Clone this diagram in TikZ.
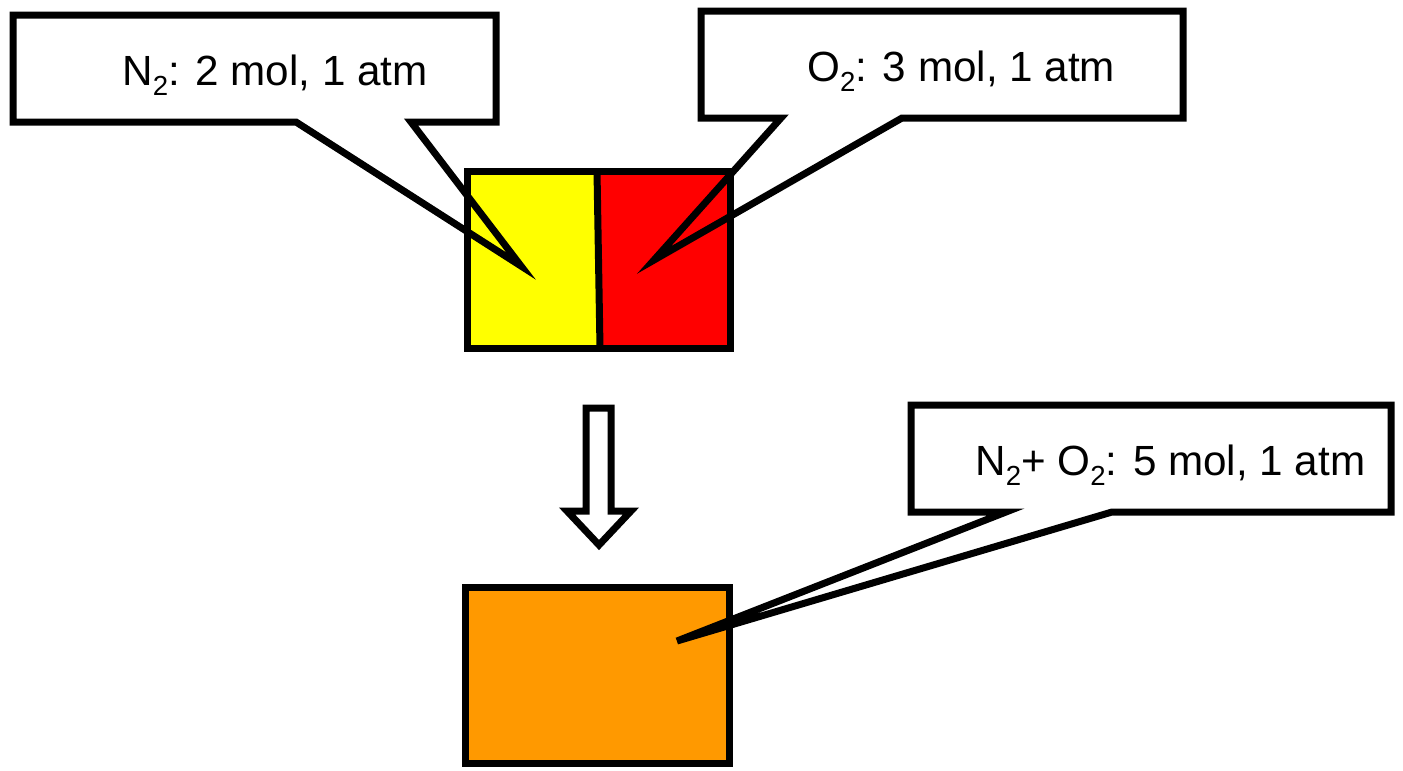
\documentclass[tikz,border=0pt]{standalone}
\usepackage{fontspec}
\setmainfont{Liberation Sans}
\definecolor{cyel}{RGB}{255,255,0}
\definecolor{cred}{RGB}{255,0,0}
\definecolor{corg}{RGB}{255,153,0}
\newcommand{\chemsub}[1]{\raisebox{-0.25em}{\fontsize{13.8pt}{16pt}\selectfont #1}}
\begin{document}
\begin{tikzpicture}[x=0.5pt,y=-0.5pt,
  outl/.style={draw=black, line width=3.5pt, line join=miter},
  lbl/.style={anchor=base west, inner sep=0pt, font=\fontsize{21.1pt}{25pt}\selectfont}]
\useasboundingbox (0,0) rectangle (1403,771);
% top container
\coordinate (ytl) at (467,171);
\coordinate (ydt) at (597,171);
\coordinate (ydb) at (600,348);
\coordinate (ybl) at (467,348);
\coordinate (rtr) at (730,171);
\coordinate (rbr) at (730,348);
\fill[cyel] (ytl) -- (ydt) -- (ydb) -- (ybl) -- cycle;
\fill[cred] (ydt) -- (rtr) -- (rbr) -- (ydb) -- cycle;
\draw[outl] (ytl) -- (rtr) -- (rbr) -- (ybl) -- cycle;
\draw[outl] (ydt) -- (ydb);
% arrow
\coordinate (a1) at (586,408);
\coordinate (a2) at (611,408);
\coordinate (a3) at (611,511);
\coordinate (a4) at (631,511);
\coordinate (a5) at (599,545);
\coordinate (a6) at (567,511);
\coordinate (a7) at (586,511);
\draw[outl, fill=white] (a1) -- (a2) -- (a3) -- (a4) -- (a5) -- (a6) -- (a7) -- cycle;
% bottom container
\coordinate (otl) at (465,587);
\coordinate (obr) at (729,763);
\draw[outl, fill=corg] (otl) rectangle (obr);
% callout 1
\coordinate (c1a) at (13,15);
\coordinate (c1b) at (496,15);
\coordinate (c1c) at (496,122);
\coordinate (c1d) at (411,122);
\coordinate (c1t) at (521,266);
\coordinate (c1e) at (296,122);
\coordinate (c1f) at (13,122);
\draw[outl] (c1a) -- (c1b) -- (c1c) -- (c1d) -- (c1t) -- (c1e) -- (c1f) -- cycle;
\node[lbl] (t1) at (122,85) {N\chemsub{2}: 2 mol, 1 atm};
% callout 2
\coordinate (c2a) at (701,11);
\coordinate (c2b) at (1183,11);
\coordinate (c2c) at (1183,118);
\coordinate (c2d) at (902,118);
\coordinate (c2t) at (654,260);
\coordinate (c2e) at (781,118);
\coordinate (c2f) at (701,118);
\draw[outl] (c2a) -- (c2b) -- (c2c) -- (c2d) -- (c2t) -- (c2e) -- (c2f) -- cycle;
\node[lbl] (t2) at (807,81) {O\chemsub{2}: 3 mol, 1 atm};
% callout 3
\coordinate (c3a) at (911,405);
\coordinate (c3b) at (1391,405);
\coordinate (c3c) at (1391,512);
\coordinate (c3d) at (1112,512);
\coordinate (c3t) at (677,641);
\coordinate (c3e) at (1006,512);
\coordinate (c3f) at (911,512);
\draw[outl] (c3a) -- (c3b) -- (c3c) -- (c3d) -- (c3t) -- (c3e) -- (c3f) -- cycle;
\node[lbl] (t3) at (975,475) {N\chemsub{2}+ O\chemsub{2}: 5 mol, 1 atm};
\end{tikzpicture}
\end{document}
